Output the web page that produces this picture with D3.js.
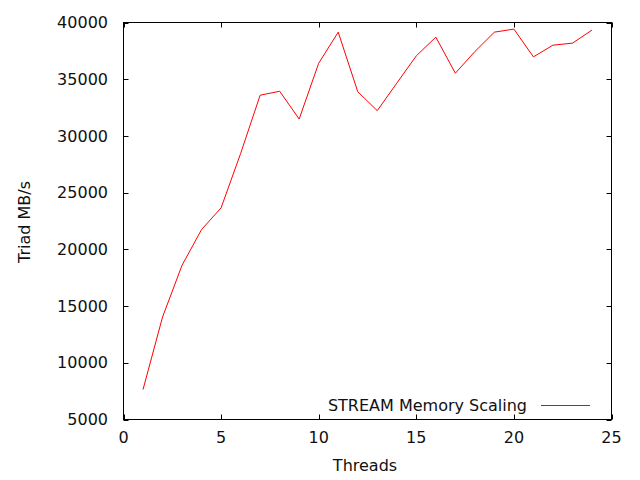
<!DOCTYPE html>
<html><head><meta charset="utf-8">
<script src="https://cdn.jsdelivr.net/npm/d3@7"></script>
<style>body{margin:0;background:#fff}svg{display:block}text{font-family:"DejaVu Sans",sans-serif;fill:#111}</style>
</head><body>
<script>
const threads = [1,2,3,4,5,6,7,8,9,10,11,12,13,14,15,16,17,18,19,20,21,22,23,24];
const triad = [7640,14030,18600,21750,23660,28450,33590,33940,31490,36410,39150,33900,32230,34650,37060,38710,35530,37440,39150,39420,36970,38000,38180,39330];
const xTicks = [0,5,10,15,20,25];
const yTicks = [5000,10000,15000,20000,25000,30000,35000,40000];
const seriesName = "STREAM Memory Scaling";
const xLabel = "Threads", yLabel = "Triad MB/s";

const W=640,H=480;
const L=123.5,R=611.5,T=22.5,B=419.5;
const svg=d3.select("body").append("svg").attr("width",W).attr("height",H);
const x=d3.scaleLinear().domain([0,25]).range([L,R]);
const y=d3.scaleLinear().domain([5000,40000]).range([B,T]);
const fs=16;
const tl=5;
const g=svg.append("g");
xTicks.forEach(v=>{
  const px=Math.round(x(v))+0.5;
  g.append("line").attr("x1",px).attr("x2",px).attr("y1",B).attr("y2",B-tl).attr("stroke","#000");
  g.append("line").attr("x1",px).attr("x2",px).attr("y1",T).attr("y2",T+tl).attr("stroke","#000");
  g.append("text").attr("x",x(v)).attr("y",437).attr("dy","0.35em").attr("text-anchor","middle").attr("font-size",fs).text(v);
});
yTicks.forEach(v=>{
  const py=Math.round(y(v))+0.5;
  g.append("line").attr("x1",L).attr("x2",L+tl).attr("y1",py).attr("y2",py).attr("stroke","#000");
  g.append("line").attr("x1",R).attr("x2",R-tl).attr("y1",py).attr("y2",py).attr("stroke","#000");
  g.append("text").attr("x",108).attr("y",y(v)).attr("dy","0.35em").attr("text-anchor","end").attr("font-size",fs).text(v);
});
g.append("rect").attr("x",L).attr("y",T).attr("width",R-L).attr("height",B-T).attr("fill","none").attr("stroke","#000");

const line=d3.line().x((d,i)=>x(threads[i])).y(d=>y(d));
svg.append("path").datum(triad).attr("d",line).attr("fill","none").attr("stroke","#ff0000").attr("stroke-width",1);

svg.append("text").attr("x",365).attr("y",465).attr("dy","0.35em").attr("text-anchor","middle").attr("font-size",fs).text(xLabel);
svg.append("text").attr("transform","translate(24,222) rotate(-90)").attr("dy","0.35em").attr("text-anchor","middle").attr("font-size",fs).text(yLabel);

svg.append("text").attr("x",527).attr("y",405).attr("dy","0.35em").attr("text-anchor","end").attr("font-size",fs).text(seriesName);
svg.append("line").attr("x1",541).attr("x2",590).attr("y1",405.5).attr("y2",405.5).attr("stroke","#ff0000");
</script>
</body></html>
